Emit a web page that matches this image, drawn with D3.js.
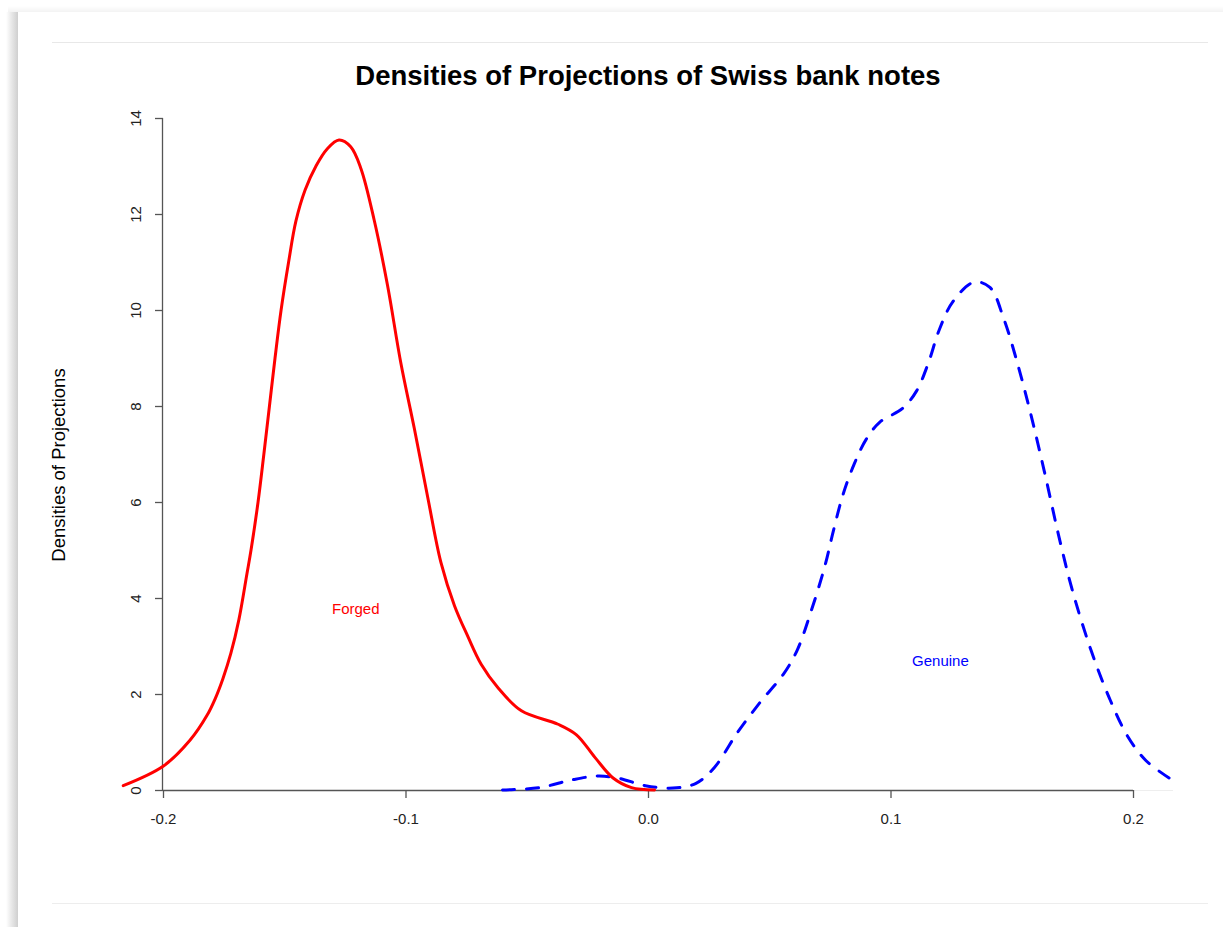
<!DOCTYPE html>
<html>
<head>
<meta charset="utf-8">
<script src="https://cdn.jsdelivr.net/npm/d3@7"></script>
<style>
  html, body { margin: 0; padding: 0; background: #ffffff; }
  svg { display: block; }
</style>
</head>
<body>
<svg id="chart" width="1223" height="927"></svg>
<script>
// ---- data ----
const chartTitle = "Densities of Projections of Swiss bank notes";
const yAxisTitle = "Densities of Projections";
const xTicks = [-0.2, -0.1, 0.0, 0.1, 0.2];
const xTickLabels = ["-0.2", "-0.1", "0.0", "0.1", "0.2"];
const yTicks = [0, 2, 4, 6, 8, 10, 12, 14];
const yTickLabels = ["0", "2", "4", "6", "8", "10", "12", "14"];

const forgedX = [-0.2164, -0.1998, -0.1888, -0.1819, -0.1785, -0.1753, -0.1720, -0.1687, -0.1654, -0.1637,
  -0.1608, -0.1584, -0.1561, -0.1538, -0.1513, -0.1482, -0.1452, -0.1414, -0.1369, -0.1324,
  -0.1274, -0.1226, -0.1184, -0.1129, -0.1074, -0.1019, -0.0964, -0.0908, -0.0854, -0.0798,
  -0.0743, -0.0688, -0.0617, -0.0522, -0.0371, -0.0295, -0.0219, -0.0144, -0.0068, 0.0027];
const forgedY = [0.09, 0.50, 1.04, 1.55, 1.90, 2.32, 2.85, 3.55, 4.50, 5.00,
  6.00, 7.00, 8.00, 9.00, 10.00, 11.00, 11.85, 12.50, 13.00, 13.35,
  13.54, 13.40, 12.95, 11.87, 10.51, 8.89, 7.54, 6.09, 4.74, 3.84,
  3.20, 2.62, 2.12, 1.65, 1.37, 1.15, 0.68, 0.25, 0.05, 0.00];

const genuineX = [-0.0600, -0.0447, -0.0314, -0.0210, -0.0125, -0.0011, 0.0103, 0.0198, 0.0274, 0.0368,
  0.0463, 0.0558, 0.0615, 0.0671, 0.0728, 0.0766, 0.0804, 0.0851, 0.0899, 0.0955,
  0.1050, 0.1107, 0.1155, 0.1202, 0.1258, 0.1344, 0.1410, 0.1467, 0.1524, 0.1580,
  0.1637, 0.1694, 0.1751, 0.1827, 0.1903, 0.1979, 0.2054, 0.2149];
const genuineY = [0.00, 0.05, 0.21, 0.29, 0.25, 0.09, 0.04, 0.14, 0.47, 1.19,
  1.83, 2.41, 2.91, 3.70, 4.64, 5.43, 6.15, 6.80, 7.30, 7.66,
  7.95, 8.31, 8.88, 9.60, 10.18, 10.58, 10.47, 9.82, 8.88, 7.80,
  6.58, 5.29, 4.14, 2.91, 1.91, 1.11, 0.61, 0.25];

const labelForged = { text: "Forged", x: -0.1205 };
const labelGenuine = { text: "Genuine", x: 0.1206 };

// ---- layout ----
const svg = d3.select("#chart");
const W = 1223, H = 927;

const defs = svg.append("defs");
const grad = defs.append("linearGradient").attr("id", "lshadow").attr("x1", "0").attr("x2", "1");
grad.append("stop").attr("offset", "0").attr("stop-color", "#ffffff");
grad.append("stop").attr("offset", "0.5").attr("stop-color", "#e6e6e6");
grad.append("stop").attr("offset", "1").attr("stop-color", "#cfcfcf");
const tgrad = defs.append("linearGradient").attr("id", "tshadow").attr("x1", "0").attr("x2", "0").attr("y1", "0").attr("y2", "1");
tgrad.append("stop").attr("offset", "0").attr("stop-color", "#ffffff");
tgrad.append("stop").attr("offset", "1").attr("stop-color", "#f3f3f3");

svg.append("rect").attr("x", 0).attr("y", 0).attr("width", W).attr("height", H).attr("fill", "#ffffff");
svg.append("rect").attr("x", 8).attr("y", 6).attr("width", W).attr("height", 6).attr("fill", "url(#tshadow)");
svg.append("rect").attr("x", 6).attr("y", 12).attr("width", 12).attr("height", H).attr("fill", "url(#lshadow)");
svg.append("rect").attr("x", 18).attr("y", 12).attr("width", W - 18).attr("height", H).attr("fill", "#ffffff");
svg.append("line").attr("x1", 52).attr("x2", 1208).attr("y1", 42.5).attr("y2", 42.5).attr("stroke", "#e8e8e8");
svg.append("line").attr("x1", 52).attr("x2", 1208).attr("y1", 903.5).attr("y2", 903.5).attr("stroke", "#ededed");

const x = d3.scaleLinear().domain([-0.2, 0.2]).range([163, 1133]);
const y = d3.scaleLinear().domain([0, 14]).range([790, 118]);

const font = "'Liberation Sans', Arial, Helvetica, sans-serif";

svg.append("line").attr("x1", 1133).attr("x2", 1173).attr("y1", 790.5).attr("y2", 790.5).attr("stroke", "#eeeeee");

// x axis
const xAxis = d3.axisBottom(x).tickValues(xTicks).tickSize(8).tickSizeOuter(0)
  .tickFormat((d, i) => xTickLabels[i]);
const gx = svg.append("g").attr("transform", "translate(0,790)").call(xAxis);
gx.select(".domain").attr("stroke", "#555").attr("stroke-width", 1.3).attr("d", `M${x(-0.2)},0.5H${x(0.2)}`);
gx.selectAll(".tick line").attr("stroke", "#555").attr("stroke-width", 1.3);
gx.selectAll(".tick text").attr("font-family", font).attr("font-size", 15).attr("fill", "#222")
  .attr("y", 29).attr("dy", "0.35em");

// y axis
const yAxis = d3.axisLeft(y).tickValues(yTicks).tickSize(8).tickSizeOuter(0)
  .tickFormat((d, i) => yTickLabels[i]);
const gy = svg.append("g").attr("transform", "translate(163,0)").call(yAxis);
gy.select(".domain").attr("stroke", "#555").attr("stroke-width", 1.3).attr("d", `M-0.5,${y(0)}V${y(14)}`);
gy.selectAll(".tick line").attr("stroke", "#555").attr("stroke-width", 1.3);
gy.selectAll(".tick text").attr("font-family", font).attr("font-size", 15).attr("fill", "#222")
  .attr("x", null).attr("dy", null)
  .attr("transform", "translate(-28,0) rotate(-90)")
  .attr("text-anchor", "middle").attr("dominant-baseline", "central");

// curves
const line = d3.line().x(d => x(d[0])).y(d => y(d[1])).curve(d3.curveCatmullRom.alpha(0.5));
const forged = forgedX.map((v, i) => [v, forgedY[i]]);
const genuine = genuineX.map((v, i) => [v, genuineY[i]]);

svg.append("path").attr("d", line(genuine)).attr("fill", "none").attr("stroke", "#0000ff")
  .attr("stroke-width", 3).attr("stroke-dasharray", "12,12").attr("stroke-linecap", "round");
svg.append("path").attr("d", line(forged)).attr("fill", "none").attr("stroke", "#ff0000")
  .attr("stroke-width", 3).attr("stroke-linecap", "round").attr("stroke-linejoin", "round");

// text labels
svg.append("text").attr("x", x(labelForged.x)).attr("y", 614).attr("text-anchor", "middle")
  .attr("font-family", font).attr("font-size", 15).attr("fill", "#ff0000")
  .text(labelForged.text);
svg.append("text").attr("x", x(labelGenuine.x)).attr("y", 666).attr("text-anchor", "middle")
  .attr("font-family", font).attr("font-size", 15).attr("fill", "#0000ff")
  .text(labelGenuine.text);

// titles
svg.append("text").attr("x", 648).attr("y", 85).attr("text-anchor", "middle")
  .attr("font-family", font).attr("font-weight", "bold").attr("font-size", 27.5).attr("fill", "#000")
  .text(chartTitle);
svg.append("text").attr("transform", "translate(58,465) rotate(-90)").attr("text-anchor", "middle")
  .attr("dominant-baseline", "central").attr("font-family", font).attr("font-size", 18.5).attr("fill", "#000")
  .text(yAxisTitle);
</script>
</body>
</html>
